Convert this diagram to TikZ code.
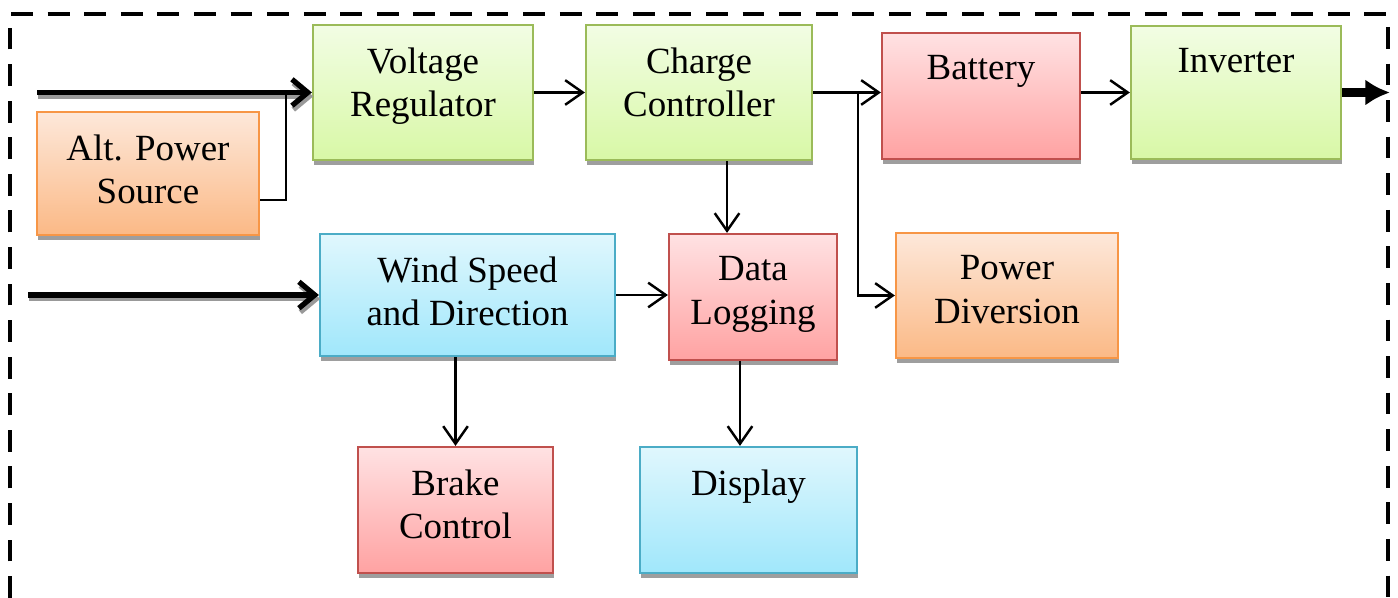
\documentclass[tikz,border=0pt]{standalone}
\usepackage{fontspec}
\setmainfont{Liberation Serif}
\usetikzlibrary{arrows.meta,calc,positioning,shadows}
\definecolor{GreenEdge}{HTML}{9BBB59}
\definecolor{GreenTop}{HTML}{F2FDE4}
\definecolor{GreenBot}{HTML}{D8F8A6}
\definecolor{RedEdge}{HTML}{C0504D}
\definecolor{RedTop}{HTML}{FFE2E3}
\definecolor{RedBot}{HTML}{FFA2A2}
\definecolor{OrangeEdge}{HTML}{F79646}
\definecolor{OrangeTop}{HTML}{FDE8DA}
\definecolor{OrangeBot}{HTML}{FBB986}
\definecolor{BlueEdge}{HTML}{4BACC6}
\definecolor{BlueTop}{HTML}{E0F7FD}
\definecolor{BlueBot}{HTML}{A0E7FB}

\begin{document}
\begin{tikzpicture}[x=0.01cm, y=-0.01cm,
    blk/.style={line width=0.6pt, inner sep=0pt,
        drop shadow={shadow xshift=0.3pt, shadow yshift=-1.3pt, fill=black!38, opacity=1}},
    greenblk/.style={blk, draw=GreenEdge, top color=GreenTop, bottom color=GreenBot},
    redblk/.style={blk, draw=RedEdge, top color=RedTop, bottom color=RedBot},
    orangeblk/.style={blk, draw=OrangeEdge, top color=OrangeTop, bottom color=OrangeBot},
    blueblk/.style={blk, draw=BlueEdge, top color=BlueTop, bottom color=BlueBot},
    txt/.style={anchor=north, align=center, inner sep=0pt, yshift=-0.23cm,
        font=\fontsize{10.5}{12.4}\selectfont},
    arr/.style={-{Straight Barb[length=5pt,width=7pt]}, line width=0.7pt},
    inarr/.style={-{Straight Barb[length=4.5pt,width=7.5pt]}, line width=1.5pt},
    outarr/.style={-{Latex[length=7pt,width=7.5pt]}, line width=2.4pt}]
    \useasboundingbox (0,0) rectangle (1398,598);

    % Dashed system boundary
    \draw[line width=1.4pt, dash pattern=on 6.2pt off 4.2pt] (10,598) -- (10,14) -- (1388,14) -- (1388,598);

    % Top row
    \node[greenblk, minimum width=2.2cm, minimum height=1.35cm, label={[txt]north:{Voltage\\Regulator}}] (vreg) at (423,92.5) {};
    \node[greenblk, minimum width=2.26cm, minimum height=1.35cm, label={[txt]north:{Charge\\Controller}}] (cc) at (699,92.5) {};
    \node[redblk, minimum width=1.98cm, minimum height=1.26cm, label={[txt]north:{Battery}}] (bat) at (981,96) {};
    \node[greenblk, minimum width=2.1cm, minimum height=1.33cm, label={[txt]north:{Inverter}}] (inv) at (1236,92.5) {};
    \node[orangeblk, minimum width=2.22cm, minimum height=1.23cm, label={[txt]north:{Alt. Power\\Source}}] (alt) at (148,173.5) {};

    % Middle row
    \node[blueblk, minimum width=2.95cm, minimum height=1.22cm, label={[txt]north:{Wind Speed\\and Direction}}] (wind) at (467.5,295) {};
    \node[redblk, minimum width=1.68cm, minimum height=1.26cm, label={[txt]north:{Data\\Logging}}] (dlog) at (753,297) {};
    \node[orangeblk, minimum width=2.22cm, minimum height=1.25cm, label={[txt]north:{Power\\Diversion}}] (pdiv) at (1007,295.5) {};

    % Bottom row
    \node[redblk, minimum width=1.95cm, minimum height=1.26cm, label={[txt]north:{Brake\\Control}}] (brake) at (455.5,510) {};
    \node[blueblk, minimum width=2.17cm, minimum height=1.26cm, label={[txt]north:{Display}}] (disp) at (748.5,510) {};

    % Inputs and output
    \coordinate (in1) at (37,92.5);
    \coordinate (in2) at (28,295);
    \coordinate (out) at (1390,92.5);
    \draw[inarr, black!40, transform canvas={xshift=0.4pt, yshift=-1.1pt}] (in1) -- (vreg.west);
    \draw[inarr] (in1) -- (vreg.west);
    \draw[inarr, black!40, transform canvas={xshift=0.4pt, yshift=-1.1pt}] (in2) -- (wind.west);
    \draw[inarr] (in2) -- (wind.west);
    \draw[outarr] (inv.east) -- (out);

    % Connections
    \draw[line width=0.7pt] ([yshift=-0.265cm]alt.east) -| ([xshift=-0.26cm]vreg.west);
    \draw[arr] (vreg.east) -- (cc.west);
    \draw[arr] (cc.east) -- (cc.east -| bat.west);
    \draw[arr] ([xshift=0.45cm]cc.east) |- (pdiv.west);
    \draw[arr] (inv.west -| bat.east) -- (inv.west);
    \draw[arr] ([xshift=0.28cm]cc.south) -- ([xshift=0.28cm]cc.south |- dlog.north);
    \draw[arr] (wind.east) -- (wind.east -| dlog.west);
    \draw[arr] (brake.north |- wind.south) -- (brake.north);
    \draw[arr] ([xshift=-0.13cm]dlog.south) -- ([xshift=-0.13cm]dlog.south |- disp.north);

\end{tikzpicture}
\end{document}
